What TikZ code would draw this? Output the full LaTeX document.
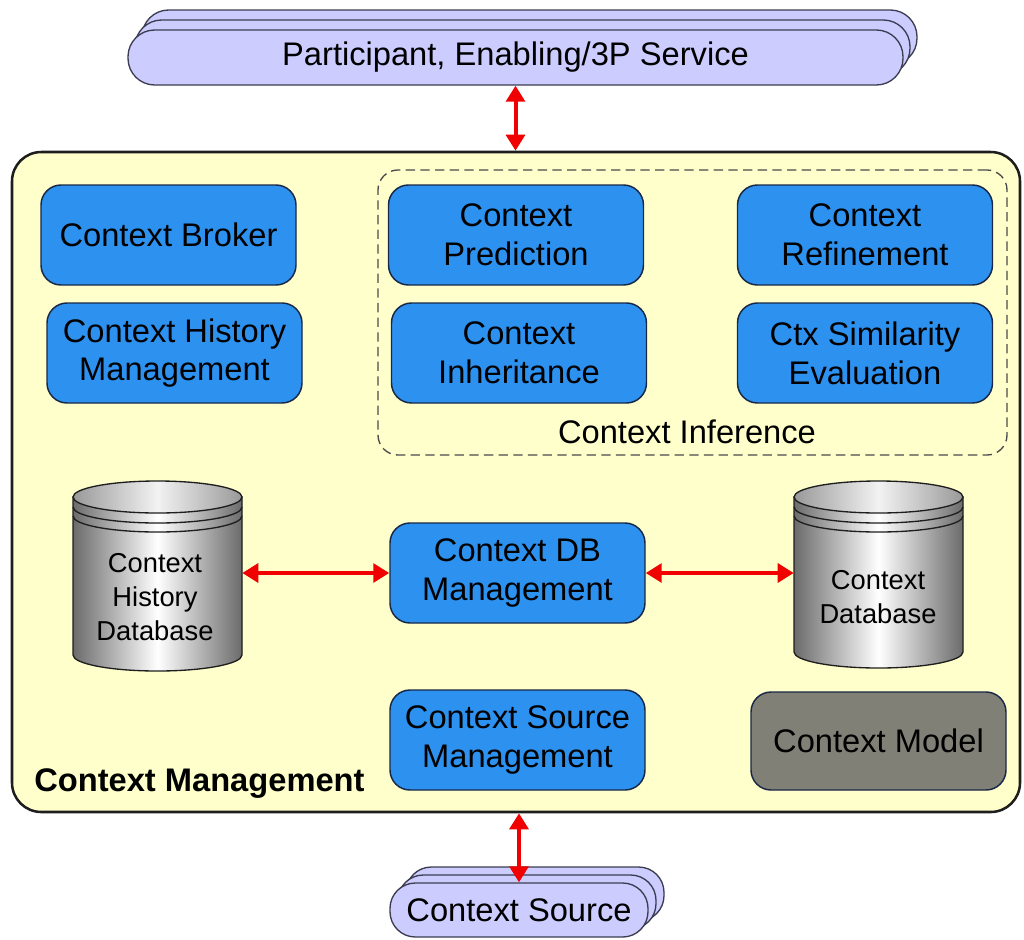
\documentclass[tikz,border=0pt]{standalone}
\usepackage{fontspec}
\setmainfont{Liberation Sans}
\usetikzlibrary{arrows.meta}
\definecolor{bgyellow}{RGB}{255,255,204}
\definecolor{ctxblue}{RGB}{45,145,240}
\definecolor{navyline}{RGB}{25,40,70}
\definecolor{pillfill}{RGB}{204,204,255}
\definecolor{pillline}{RGB}{60,60,80}
\definecolor{modelgray}{RGB}{128,128,118}
\definecolor{arrowred}{RGB}{240,0,0}
\definecolor{darkline}{RGB}{30,30,30}
\begin{document}
\begin{tikzpicture}[x=0.75pt,y=-0.75pt,
  blk/.style={draw=navyline, line width=1.1pt, fill=ctxblue, rounded corners=15pt,
    minimum width=191.25pt, minimum height=75pt, align=center, inner sep=0pt,
    font=\fontsize{24.5}{29}\selectfont},
  pilltop/.style={draw=pillline, line width=1pt, fill=pillfill, rounded corners=20pt,
    minimum width=581.25pt, minimum height=41.25pt, inner sep=0pt,
    font=\fontsize{24.5}{29}\selectfont},
  pillbot/.style={draw=pillline, line width=1pt, fill=pillfill, rounded corners=19pt,
    minimum width=193.5pt, minimum height=40.5pt, inner sep=0pt,
    font=\fontsize{24.5}{29}\selectfont},
  redarrow/.style={draw=arrowred, line width=3pt,
    {Triangle[length=12pt,width=14pt]}-{Triangle[length=12pt,width=14pt]}},
  dbtext/.style={align=center, font=\fontsize{20.5}{25.5}\selectfont, inner sep=0pt},
  cylbody/.style={draw=darkline, line width=1pt, left color=black!58, right color=black!58, middle color=white},
  cyltop/.style={draw=darkline, line width=1pt, left color=black!40, right color=black!40, middle color=black!5},
  ring/.style={draw=darkline, line width=1pt},
  frame/.style={draw=none, minimum width=126.75pt, minimum height=144pt, inner sep=0pt}
]
\useasboundingbox (0,0) rectangle (1024,939);

% main container
\node[draw=darkline, line width=1.9pt, fill=bgyellow, rounded corners=22pt,
  minimum width=756pt, minimum height=495pt, inner sep=0pt] (main) at (516,482) {};
\node[anchor=west, font=\bfseries\fontsize{24.5}{29}\selectfont, inner sep=0pt] (cm) at (34,784) {Context Management};

% top stacked pill
\node[pilltop] (top3) at (529.5,37.5) {};
\node[pilltop] (top2) at (522.5,47.5) {};
\node[pilltop] (top) at (515.5,57.5) {Participant, Enabling/3P Service};

% bottom stacked pill
\node[pillbot] (bot3) at (535,894) {};
\node[pillbot] (bot2) at (527,902) {};
\node[pillbot] (bot) at (519,910) {Context Source};

% context inference group
\node[draw=darkline!80, line width=1pt, dash pattern=on 7pt off 4pt, rounded corners=15pt,
  minimum width=471.75pt, minimum height=213.75pt, inner sep=0pt] (inf) at (692.5,312.5) {};
\node[font=\fontsize{24.5}{29}\selectfont, inner sep=0pt] (inflabel) at (687,432) {Context Inference};

% blue blocks
\node[blk] (broker) at (168.5,235) {Context Broker};
\node[blk] (hist) at (174.5,353) {Context History\\Management};
\node[blk] (pred) at (516,235) {Context\\Prediction};
\node[blk] (refine) at (865,235) {Context\\Refinement};
\node[blk] (inherit) at (519,353) {Context\\Inheritance};
\node[blk] (simil) at (865,353) {Ctx Similarity\\Evaluation};
\node[blk] (dbm) at (517.5,573) {Context DB\\Management};
\node[blk] (srcm) at (517.5,740) {Context Source\\Management};
\node[blk, fill=modelgray, minimum height=73.5pt] (model) at (878.5,741) {Context Model};

% left cylinder
\path[cylbody] (73,497) -- (73,655) arc[start angle=180, end angle=360, x radius=63.375pt, y radius=12pt] -- (242,497) -- cycle;
\path[cyltop] (157.5,497) ellipse[x radius=63.375pt, y radius=12pt];
\draw[ring] (73,507) arc[start angle=180, end angle=360, x radius=63.375pt, y radius=12pt];
\draw[ring] (73,516) arc[start angle=180, end angle=360, x radius=63.375pt, y radius=12pt];
\node[frame] (hdb) at (157.5,573) {};
\node[dbtext] (hdbtext) at (155,597) {Context\\History\\Database};

% right cylinder
\path[cylbody] (794,497) -- (794,652) arc[start angle=180, end angle=360, x radius=63.375pt, y radius=12pt] -- (963,497) -- cycle;
\path[cyltop] (878.5,497) ellipse[x radius=63.375pt, y radius=12pt];
\draw[ring] (794,507) arc[start angle=180, end angle=360, x radius=63.375pt, y radius=12pt];
\draw[ring] (794,516) arc[start angle=180, end angle=360, x radius=63.375pt, y radius=12pt];
\node[frame] (cdb) at (878.5,573) {};
\node[dbtext] (cdbtext) at (878,597) {Context\\Database};

% arrows
\draw[redarrow] (top.south) -- (top.south |- main.north);
\draw[redarrow] (bot.north |- main.south) -- (bot.north);
\draw[redarrow] (hdb.east) -- (dbm.west);
\draw[redarrow] (dbm.east) -- (cdb.west);
\end{tikzpicture}
\end{document}
